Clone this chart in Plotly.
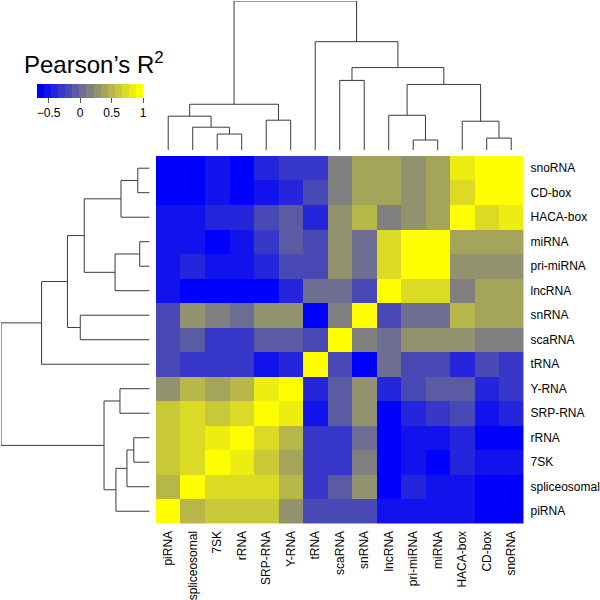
import plotly.graph_objects as go

# ---------------- data ----------------
labels = ["piRNA", "spliceosomal", "7SK", "rRNA", "SRP-RNA", "Y-RNA", "tRNA",
          "scaRNA", "snRNA", "lncRNA", "pri-miRNA", "miRNA", "HACA-box",
          "CD-box", "snoRNA"]

r_piRNA        = [1.00, 0.50, 0.61, 0.61, 0.61, 0.27, -0.18, -0.18, -0.18, -0.51, -0.51, -0.51, -0.51, -0.62, -0.62]
r_spliceosomal = [0.50, 1.00, 0.72, 0.72, 0.72, 0.50, -0.29, -0.06, 0.27, -0.62, -0.40, -0.51, -0.51, -0.62, -0.62]
r_7SK          = [0.61, 0.72, 1.00, 0.83, 0.61, 0.38, -0.29, -0.29, 0.16, -0.62, -0.51, -0.62, -0.40, -0.51, -0.51]
r_rRNA         = [0.61, 0.72, 0.83, 1.00, 0.72, 0.50, -0.29, -0.29, 0.05, -0.62, -0.51, -0.51, -0.40, -0.62, -0.62]
r_SRP          = [0.61, 0.72, 0.61, 0.72, 1.00, 0.83, -0.51, -0.06, 0.27, -0.62, -0.40, -0.29, -0.18, -0.51, -0.40]
r_Y            = [0.27, 0.50, 0.38, 0.50, 0.83, 1.00, -0.40, -0.06, 0.27, -0.40, -0.18, -0.06, -0.06, -0.40, -0.29]
r_tRNA         = [-0.18, -0.29, -0.29, -0.29, -0.51, -0.40, 1.00, -0.18, -0.62, 0.05, -0.18, -0.18, -0.40, -0.18, -0.29]
r_scaRNA       = [-0.18, -0.06, -0.29, -0.29, -0.06, -0.06, -0.18, 1.00, 0.16, 0.05, 0.27, 0.27, 0.27, 0.16, 0.16]
r_snRNA        = [-0.18, 0.27, 0.16, 0.05, 0.27, 0.27, -0.62, 0.16, 1.00, -0.18, 0.05, 0.05, 0.50, 0.38, 0.38]
r_lncRNA       = [-0.51, -0.62, -0.62, -0.62, -0.62, -0.40, 0.05, 0.05, -0.18, 1.00, 0.72, 0.72, 0.16, 0.38, 0.38]
r_primiRNA     = [-0.51, -0.40, -0.51, -0.51, -0.40, -0.18, -0.18, 0.27, 0.05, 0.72, 1.00, 0.96, 0.27, 0.27, 0.27]
r_miRNA        = [-0.51, -0.51, -0.62, -0.51, -0.29, -0.06, -0.18, 0.27, 0.05, 0.72, 0.96, 1.00, 0.38, 0.38, 0.38]
r_HACA         = [-0.51, -0.51, -0.40, -0.40, -0.18, -0.06, -0.40, 0.27, 0.50, 0.16, 0.27, 0.38, 1.00, 0.72, 0.83]
r_CD           = [-0.62, -0.62, -0.51, -0.62, -0.51, -0.40, -0.18, 0.16, 0.38, 0.38, 0.27, 0.38, 0.72, 1.00, 0.96]
r_snoRNA       = [-0.62, -0.62, -0.51, -0.62, -0.40, -0.29, -0.29, 0.16, 0.38, 0.38, 0.27, 0.38, 0.83, 0.96, 1.00]

# hierarchical clustering merges: (left, right, height); height normalised (root = 1)
merges = [
    ("7SK", "rRNA", 0.107),          # m0
    ("spliceosomal", "m0", 0.153),   # m1
    ("piRNA", "m1", 0.227),          # m2
    ("SRP-RNA", "Y-RNA", 0.200),     # m3
    ("m2", "m3", 0.307),             # m4
    ("pri-miRNA", "miRNA", 0.067),   # m5
    ("lncRNA", "m5", 0.233),         # m6
    ("CD-box", "snoRNA", 0.080),     # m7
    ("HACA-box", "m7", 0.193),       # m8
    ("m6", "m8", 0.440),             # m9
    ("scaRNA", "snRNA", 0.467),      # m10
    ("m10", "m9", 0.553),            # m11
    ("tRNA", "m11", 0.727),          # m12
    ("m4", "m12", 1.000),            # m13
]

colorbar_ticks = [-0.5, 0, 0.5, 1]
colorbar_ticktext = ["\u22120.5", "0", "0.5", "1"]
zmin, zmax = -0.68, 1.0

# ---------------- build ----------------
z = [r_piRNA, r_spliceosomal, r_7SK, r_rRNA, r_SRP, r_Y, r_tRNA, r_scaRNA,
     r_snRNA, r_lncRNA, r_primiRNA, r_miRNA, r_HACA, r_CD, r_snoRNA]
idx = list(range(len(labels)))

# 15-step blue-gray-yellow palette
def lerp(a, b, f):
    return tuple(round(a[i] + (b[i] - a[i]) * f) for i in range(3))
blue, gray, yellow = (0, 0, 255), (128, 128, 128), (255, 255, 0)
n = 15
cols = []
for k in range(n):
    t = k / (n - 1)
    c = lerp(blue, gray, t * 2) if t <= 0.5 else lerp(gray, yellow, (t - 0.5) * 2)
    cols.append("rgb(%d,%d,%d)" % c)
cscale = []
for k, c in enumerate(cols):
    cscale.append([k / n, c])
    cscale.append([(k + 1) / n, c])

# dendrogram segments
pos = {lab: i for i, lab in enumerate(labels)}
hgt = {lab: 0.0 for lab in labels}
seg_p, seg_h = [], []
for i, (a, b, h) in enumerate(merges):
    pa, pb = pos[a], pos[b]
    seg_p += [pa, pa, pb, pb, None]
    seg_h += [hgt[a], h, h, hgt[b], None]
    pos["m%d" % i] = (pa + pb) / 2
    hgt["m%d" % i] = h

W = 600.0
X0, X1 = 157.0, 527.0
Y0, Y1 = 157.0, 527.0
line_style = dict(color="#3a3a3a", width=1)

fig = go.Figure()
fig.add_trace(go.Heatmap(
    z=z, x=idx, y=idx, zmin=zmin, zmax=zmax, colorscale=cscale,
    xgap=0, ygap=0, hoverinfo="skip",
    colorbar=dict(
        orientation="h", x=(37.3 + 144.3) / 2 / W, xanchor="center",
        y=1 - 84.7 / W, yanchor="top", len=107 / W, lenmode="fraction",
        thickness=13.5, thicknessmode="pixels", xpad=0, ypad=0,
        outlinewidth=0, tickvals=colorbar_ticks, ticktext=colorbar_ticktext,
        ticks="outside", ticklen=5, tickcolor="#555555", tickwidth=1,
        tickfont=dict(size=12, color="black", family="Liberation Sans, Arial"),
    ),
))
fig.add_trace(go.Scatter(x=seg_p, y=seg_h, mode="lines", line=line_style,
                         xaxis="x2", yaxis="y2", hoverinfo="skip",
                         cliponaxis=False, showlegend=False))
fig.add_trace(go.Scatter(x=seg_h, y=seg_p, mode="lines", line=line_style,
                         xaxis="x3", yaxis="y3", hoverinfo="skip",
                         cliponaxis=False, showlegend=False))

font = dict(family="Liberation Sans, Arial", size=12, color="black")
fig.update_layout(
    width=600, height=600, margin=dict(l=0, r=0, t=0, b=0),
    paper_bgcolor="white", plot_bgcolor="white", showlegend=False,
    font=font,
    xaxis=dict(domain=[X0 / W, X1 / W], range=[-0.5, 14.5], tickvals=idx,
               ticktext=labels, tickangle=-90, ticks="", showgrid=False,
               zeroline=False, showline=False, ticklabelstandoff=4,
               tickfont=font, anchor="y"),
    yaxis=dict(domain=[1 - Y1 / W, 1 - Y0 / W], range=[-0.5, 14.5],
               tickvals=idx, ticktext=labels, side="right", ticks="",
               showgrid=False, zeroline=False, showline=False,
               ticklabelstandoff=6, tickfont=font, anchor="x"),
    xaxis2=dict(domain=[X0 / W, X1 / W], range=[-0.5, 14.5], visible=False,
                anchor="y2"),
    yaxis2=dict(domain=[1 - 151 / W, 1 - 1 / W], range=[0, 1], visible=False,
                anchor="x2"),
    xaxis3=dict(domain=[1 / W, 150.7 / W], range=[1, 0], visible=False,
                anchor="y3"),
    yaxis3=dict(domain=[1 - Y1 / W, 1 - Y0 / W], range=[-0.5, 14.5],
                visible=False, anchor="x3"),
    annotations=[dict(text="Pearson\u2019s R<sup>2</sup>", x=95 / W,
                      y=1 - 81 / W, xref="paper", yref="paper",
                      xanchor="center", yanchor="bottom", showarrow=False,
                      font=dict(family="Liberation Sans, Arial", size=24,
                                color="black"))],
)

fig.write_html("out.html", config={"displayModeBar": False},
               post_script="document.body.style.margin='0';"
                           "document.body.style.overflow='hidden';")
